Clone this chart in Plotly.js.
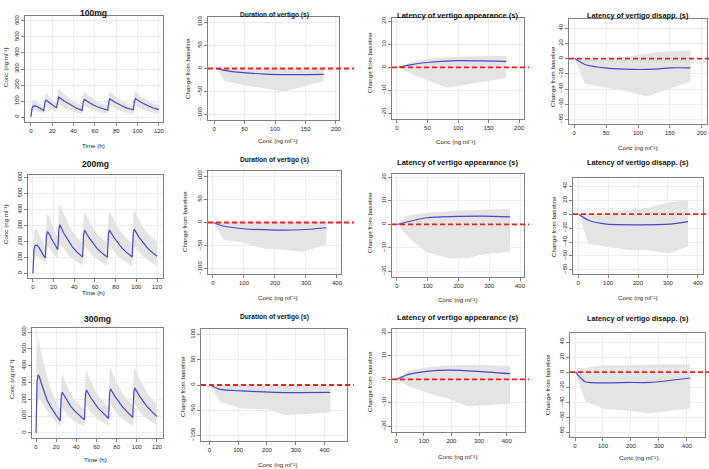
<!DOCTYPE html>
<html><head><meta charset="utf-8">
<script src="https://cdn.plot.ly/plotly-3.0.1.min.js"></script>
<style>html,body{margin:0;padding:0;background:#fff}#chart{width:709px;height:469px}</style>
</head><body><div id="chart"></div>
<script>
// ---------------- DATA ----------------
const panelTitles = ["100mg","Duration of vertigo (s)","Latency of vertigo appearance (s)","Latency of vertigo disapp. (s)",
                     "200mg","Duration of vertigo (s)","Latency of vertigo appearance (s)","Latency of vertigo disapp. (s)",
                     "300mg","Duration of vertigo (s)","Latency of vertigo appearance (s)","Latency of vertigo disapp. (s)"];
const pkXTitle = "Time (h)";
const pkYTitle = "Conc (ng ml\u207B\u00B9)";
const pdXTitle = "Conc (ng ml\u207B\u00B9)";
const pdYTitle = "Change from baseline";

// PK: 100 mg and 200 mg (doses 0,12,24,48,72,96 h)
const timeBid = [0,1,2,4,6,8,10,12, 13,14,16,18,20,22,24, 25,26,30,34,38,42,48, 49,50,54,58,62,66,72, 73,74,78,82,86,90,96, 97,98,102,106,110,114,120];
const med100 = [0,55,68,70,64,55,47,40, 90,105,97,85,75,66,60, 110,125,105,88,72,58,42, 95,110,92,77,64,54,42, 98,113,95,80,67,56,45, 100,115,97,82,69,58,46];
const hi100  = [0,95,108,105,95,82,72,62, 135,150,138,122,108,95,85, 160,175,148,125,105,90,72, 145,160,135,115,98,85,70, 145,160,136,116,100,86,72, 145,160,136,116,100,86,72];
const lo100  = [0,30,40,40,35,30,25,22, 55,65,58,50,43,38,34, 70,80,62,48,37,29,20, 60,70,54,42,33,27,20, 60,70,54,42,33,27,20, 60,70,54,42,33,27,20];
const med200 = [0,150,175,178,160,135,115,97, 235,262,245,215,190,165,148, 270,305,250,205,168,138,102, 240,270,225,187,157,132,102, 245,272,228,190,160,135,103, 250,277,232,195,165,140,108];
const hi200  = [0,250,280,275,245,215,185,165, 345,375,350,315,280,250,228, 400,432,365,310,265,230,192, 355,385,330,285,250,222,190, 360,390,335,290,255,225,188, 365,395,340,295,260,230,200];
const lo200  = [0,90,110,112,100,88,78,68, 150,170,158,140,122,107,95, 170,190,150,117,92,73,52, 155,175,140,110,88,70,48, 155,175,140,110,88,70,47, 155,175,140,110,88,70,47];
// PK: 300 mg (doses 0,24,48,72,96 h)
const time300 = [0,1,2,3,5,8,11,14,17,20,24, 25,26,30,34,38,42,48, 49,50,54,58,62,66,72, 73,74,78,82,86,90,96, 97,98,102,106,110,114,120];
const med300  = [0,300,345,340,300,245,195,160,130,105,72, 215,242,200,163,133,110,78, 225,255,212,175,145,122,86, 235,263,220,183,153,128,92, 240,268,225,188,158,133,98];
const hi300   = [0,480,560,550,480,400,330,270,225,185,140, 320,355,290,240,200,172,140, 340,375,310,260,220,190,150, 355,390,325,275,235,205,160, 360,395,330,280,240,210,170];
const lo300   = [0,170,205,210,190,160,130,105,85,65,35, 130,150,115,88,68,55,38, 145,165,125,98,78,63,42, 150,170,130,102,82,66,45, 150,172,132,104,84,68,45];

// PD panels: duration of vertigo
const durMedX100 = [4,17,48,83,120,180],        durMedY100 = [0,-4,-9,-12,-13,-12.5];
const durHiX100  = [4,180],                     durHiY100  = [0,0];
const durLoX100  = [4,17,48,116,180],           durLoY100  = [0,-27,-36,-50,-27];
const durMedX200 = [2,29,98,200,285,366],       durMedY200 = [0,-7,-13.5,-16.3,-15.6,-11.3];
const durHiX200  = [2,366],                     durHiY200  = [0,0];
const durLoX200  = [2,34,93,168,200,291,366],   durLoY200  = [0,-37,-42.5,-56.7,-57,-63,-47.5];
const durMedX300 = [2,37,112,228,310,420],      durMedY300 = [0,-8.6,-11.8,-14.5,-15,-14.5];
const durHiX300  = [2,420],                     durHiY300  = [0,0];
const durLoX300  = [2,37,112,205,263,420],      durLoY300  = [0,-33.5,-46.7,-48,-60,-54.6];
// latency of vertigo appearance
const appMedX100 = [3,20,49,98,140,179],        appMedY100 = [0,1.0,2.1,2.9,2.8,2.6];
const appHiX100  = [3,22,49,98,179],            appHiY100  = [0,2.1,3.6,4.6,5.0];
const appLoX100  = [3,33,82,179],               appLoY100  = [0,-4,-8.9,-4.6];
const appMedX200 = [2,97,205,281,368],          appMedY200 = [0,2.8,3.4,3.5,3.2];
const appHiX200  = [2,32,97,205,368],           appHiY200  = [0,3.8,4.9,5.9,6.6];
const appLoX200  = [2,38,97,173,227,281,368],   appLoY200  = [0,-5.6,-12,-14.4,-14.4,-12.7,-11.7];
const appMedX300 = [2,45,111,195,292,412],      appMedY300 = [0,2.1,3.4,3.9,3.4,2.4];
const appHiX300  = [2,45,111,195,316,412],      appHiY300  = [0,3.6,5,6,6.1,5.7];
const appLoX300  = [2,45,111,195,259,412],      appLoY300  = [0,-2.9,-5.7,-8.6,-11.4,-10.4];
// latency of vertigo disappearance
const disMedX100 = [1,17,51,93,124,150,182],    disMedY100 = [0,-7.8,-12.6,-14.3,-14,-12.2,-12.2];
const disHiX100  = [1,51,82,129,150,182],       disHiY100  = [0,0.5,2.6,8.3,9.6,10.9];
const disLoX100  = [1,17,51,82,114,182],        disLoY100  = [0,-33,-38,-43,-50,-30];
const disMedX200 = [2,35,96,196,306,367],       disMedY200 = [0,-8.8,-14.4,-15.3,-14.4,-10.7];
const disHiX200  = [2,63,229,306,367],          disHiY200  = [0,1,8.8,17,20.5];
const disLoX200  = [2,35,96,173,229,306,367],   disLoY200  = [0,-43,-47,-51.6,-51.6,-56.7,-46];
const disMedX300 = [2,36,197,269,412],          disMedY300 = [0,-12.7,-13.6,-13.6,-7.7];
const disHiX300  = [2,36,101,197,316,412],      disHiY300  = [0,5.9,9.1,9.1,10.5,10.5];
const disLoX300  = [2,36,101,197,269,412],      disLoY300  = [0,-38.6,-48.6,-51.4,-54.5,-47.7];

// tick values
const pkXTicks = [0,20,40,60,80,100,120];
const pkYTicks = [0,100,200,300,400,500,600];
const durYTicks = [-100,-50,0,50,100];
const appYTicks = [-20,-10,0,10,20];
const disYTicks = [-80,-60,-40,-20,0,20,40];
const concTicks200 = [0,50,100,150,200];
const concTicks400 = [0,100,200,300,400];

// ---------------- LAYOUT CONFIG ----------------
const W = 709, H = 469;
// panel boxes in px: [left, right, top, bottom]
const boxes = [
  [25,163,16,122],[208,339,17,120],[392,524,18,119],[569,707,19,124],
  [28,163,175,278],[208,341,171,274],[392,524,174,277],[573,703,178,274],
  [32,163,328,438],[201,347,329,441],[392,525,329,432],[570,705,333,437]
];
const xRanges = [[-5.6,123.8],[-10,205],[-8,208],[-8,208],
                 [-4.8,125.8],[-16,413],[-16,413],[-17,417],
                 [-4,126],[-29,478],[-15,466],[-18,465]];
const yRanges = [[-31,631],[-111,111],[-22.4,21.4],[-86,52],
                 [-28,615],[-111,111],[-22.4,21.4],[-86,52],
                 [-30,624],[-111,111],[-22.4,21.4],[-86,52]];
const titlePos = [[94,13],[274,15],[458,15],[638,15],
                  [95,164],[274,160],[458,162],[638,162],
                  [97,319],[274,317],[458,317],[638,318]];
const xTitlePos = [[94,145],[277,140],[455,141],[637,147],
                   [94,292],[277,297],[457,299],[637,297],
                   [95,459],[277,464],[457,456],[638,457]];
const yTitlePos = [[5,68],[187,68],[370,63],[552,77],
                   [5,225],[185,222],[369,223],[553,227],
                   [11,380],[182,387],[369,382],[547,385]];
const redEnd = [0,354,529,709];
const titleSizes = [8.5,6.6,7.6,7.3];

const bandColor = '#e4e4e4', lineColor = '#4848cc', redColor = '#e8231b';
const FONT = '"Liberation Sans", Arial, Helvetica, sans-serif';

const pkSets = [[timeBid,med100,hi100,lo100],[timeBid,med200,hi200,lo200],[time300,med300,hi300,lo300]];
const pdSets = [
  [[durMedX100,durMedY100,durHiX100,durHiY100,durLoX100,durLoY100],
   [appMedX100,appMedY100,appHiX100,appHiY100,appLoX100,appLoY100],
   [disMedX100,disMedY100,disHiX100,disHiY100,disLoX100,disLoY100]],
  [[durMedX200,durMedY200,durHiX200,durHiY200,durLoX200,durLoY200],
   [appMedX200,appMedY200,appHiX200,appHiY200,appLoX200,appLoY200],
   [disMedX200,disMedY200,disHiX200,disHiY200,disLoX200,disLoY200]],
  [[durMedX300,durMedY300,durHiX300,durHiY300,durLoX300,durLoY300],
   [appMedX300,appMedY300,appHiX300,appHiY300,appLoX300,appLoY300],
   [disMedX300,disMedY300,disHiX300,disHiY300,disLoX300,disLoY300]]
];
const pdYTicks = [durYTicks, appYTicks, disYTicks];
const rowConcTicks = [concTicks200, concTicks400, concTicks400];

const traces = [], shapes = [], annotations = [];
const layout = {
  width: W, height: H, margin: {l:0,r:0,t:0,b:0},
  paper_bgcolor: '#fff', plot_bgcolor: '#fff', showlegend: false,
  font: {family: FONT, color: '#111'}
};

function axisBase() {
  return {showline:true, mirror:true, linecolor:'#808080', linewidth:1,
    ticks:'outside', ticklen:3, tickwidth:1, tickcolor:'#808080',
    showgrid:true, gridcolor:'#ececec', gridwidth:1, zeroline:false,
    tickfont:{size:6, color:'#222', family:FONT}, tickmode:'array', fixedrange:true, automargin:false};
}

for (let r = 0; r < 3; r++) {
  for (let c = 0; c < 4; c++) {
    const i = r*4 + c, k = i + 1;
    const xa = 'x' + (k === 1 ? '' : k), ya = 'y' + (k === 1 ? '' : k);
    const b = boxes[i];
    const xax = axisBase(), yax = axisBase();
    xax.domain = [b[0]/W, b[1]/W];
    yax.domain = [1 - b[3]/H, 1 - b[2]/H];
    xax.range = xRanges[i]; yax.range = yRanges[i];
    xax.anchor = ya; yax.anchor = xa;
    yax.tickangle = -90;
    let xt;
    if (c === 0) {
      xax.tickvals = pkXTicks; yax.tickvals = pkYTicks;
      const [t, m, hi, lo] = pkSets[r];
      traces.push({type:'scatter', mode:'lines', xaxis:xa, yaxis:ya,
        x: t.concat(t.slice().reverse()), y: hi.concat(lo.slice().reverse()),
        fill:'toself', fillcolor:bandColor, line:{width:0}, hoverinfo:'skip'});
      traces.push({type:'scatter', mode:'lines', xaxis:xa, yaxis:ya, x:t, y:m,
        line:{color:lineColor, width:1.2}});
      xt = pkXTitle;
    } else {
      xax.tickvals = rowConcTicks[r]; yax.tickvals = pdYTicks[c-1];
      const [mx, my, hx, hy, lx, ly] = pdSets[r][c-1];
      traces.push({type:'scatter', mode:'lines', xaxis:xa, yaxis:ya,
        x: hx.concat(lx.slice().reverse()), y: hy.concat(ly.slice().reverse()),
        fill:'toself', fillcolor:bandColor, line:{width:0}, hoverinfo:'skip'});
      traces.push({type:'scatter', mode:'lines', xaxis:xa, yaxis:ya, x:mx, y:my,
        line:{color:lineColor, width:1.2, shape:'spline', smoothing:0.6}});
      shapes.push({type:'line', xref:'paper', yref:ya, x0:b[0]/W, x1:redEnd[c]/W, y0:0, y1:0,
        line:{color:redColor, width:1.8, dash:'5px,3px'}, layer:'above'});
      xt = pdXTitle;
    }
    layout['xaxis' + (k === 1 ? '' : k)] = xax;
    layout['yaxis' + (k === 1 ? '' : k)] = yax;
    annotations.push({xref:'paper', yref:'paper', x:titlePos[i][0]/W, y:1-titlePos[i][1]/H,
      text:'<b>'+panelTitles[i]+'</b>', showarrow:false, xanchor:'center', yanchor:'middle',
      font:{size:titleSizes[c], family:FONT, color:'#111'}});
    annotations.push({xref:'paper', yref:'paper', x:xTitlePos[i][0]/W, y:1-xTitlePos[i][1]/H,
      text:xt, showarrow:false, xanchor:'center', yanchor:'middle',
      font:{size:6.2, family:FONT, color:'#222'}});
    annotations.push({xref:'paper', yref:'paper', x:yTitlePos[i][0]/W, y:1-yTitlePos[i][1]/H,
      text:(c === 0 ? pkYTitle : pdYTitle), showarrow:false, textangle:-90, xanchor:'center', yanchor:'middle',
      font:{size:6.2, family:FONT, color:'#222'}});
  }
}
layout.shapes = shapes;
layout.annotations = annotations;
Plotly.newPlot('chart', traces, layout, {displayModeBar:false, staticPlot:true}).then(function(gd){
  // drop Plotly's empty placeholder axis-title nodes (titles are drawn as annotations)
  gd.querySelectorAll('.g-xtitle, .g-ytitle').forEach(function(n){ if(!n.textContent.trim()) n.remove(); });
});
</script>
</body></html>
